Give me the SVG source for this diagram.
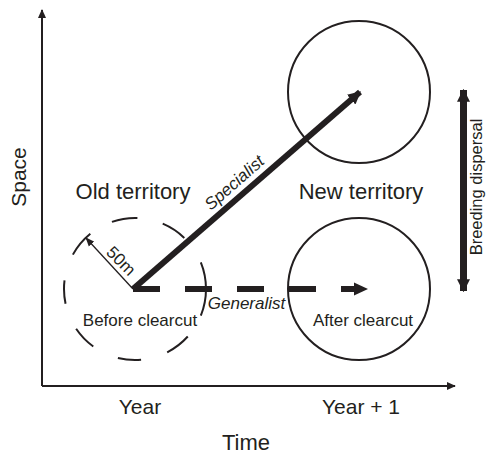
<svg xmlns="http://www.w3.org/2000/svg" width="486" height="456" viewBox="0 0 486 456">
<defs>
<style>
.t{font-family:"Liberation Sans",Arial,sans-serif;fill:#231f20}
.ax{stroke:#231f20;stroke-width:2;fill:none}
.c{stroke:#231f20;stroke-width:2;fill:none}
</style>
<marker id="ah" viewBox="0 0 10 10" refX="9" refY="5" markerWidth="9" markerHeight="9" markerUnits="userSpaceOnUse" orient="auto"><path d="M0,0.5L10,5L0,9.5z" fill="#231f20"/></marker>
<marker id="bh" viewBox="0 0 10 10" refX="9" refY="5" markerWidth="13" markerHeight="13" markerUnits="userSpaceOnUse" orient="auto-start-reverse"><path d="M0,0L10,5L0,10z" fill="#231f20"/></marker>
<marker id="sm" viewBox="0 0 10 10" refX="9" refY="5" markerWidth="9" markerHeight="9" markerUnits="userSpaceOnUse" orient="auto"><path d="M0,1L10,5L0,9z" fill="#231f20"/></marker>
</defs>
<g id="axes">
<line class="ax" x1="42" y1="386" x2="42" y2="10" marker-end="url(#ah)"/>
<line class="ax" x1="42" y1="386" x2="455" y2="386" marker-end="url(#ah)"/>
<text class="t" x="26" y="177" font-size="21" text-anchor="middle" transform="rotate(-90 26 177)">Space</text>
<text class="t" x="140" y="414" font-size="21" text-anchor="middle">Year</text>
<text class="t" x="361" y="414" font-size="21" text-anchor="middle">Year + 1</text>
<text class="t" x="246" y="450" font-size="22" text-anchor="middle">Time</text>
</g>
<g id="old-territory">
<circle class="c" cx="135" cy="289" r="71" pathLength="360" stroke-dasharray="44 20 21 22 19 22 20 22 19 22 22 20 21 21 21 24" stroke-dashoffset="22"/>
<text class="t" x="133" y="199" font-size="22" text-anchor="middle">Old territory</text>
<text class="t" x="140" y="326" font-size="17" text-anchor="middle">Before clearcut</text>
</g>
<g id="new-territory-top">
<circle class="c" cx="359" cy="92" r="71"/>
</g>
<g id="new-territory-bottom">
<circle class="c" cx="359" cy="289" r="71"/>
<text class="t" x="361" y="199" font-size="22" text-anchor="middle">New territory</text>
<text class="t" x="363" y="326" font-size="17" text-anchor="middle">After clearcut</text>
</g>
<g id="connectors">
<line x1="133" y1="289" x2="86" y2="238" stroke="#231f20" stroke-width="1.3" marker-end="url(#sm)"/>
<text class="t" x="117" y="265" font-size="17" text-anchor="middle" transform="rotate(45 117 265)">50m</text>
<line x1="133" y1="289" x2="360" y2="92" stroke="#231f20" stroke-width="6" marker-end="url(#bh)"/>
<text class="t" x="238" y="187" font-size="17" font-style="italic" text-anchor="middle" transform="rotate(-41.3 238 187)">Specialist</text>
<line x1="133" y1="289" x2="342" y2="289" stroke="#231f20" stroke-width="6" stroke-dasharray="27 25"/>
<path d="M342,289H356" stroke="#231f20" stroke-width="6"/>
<path d="M354,282.5L368,289L354,295.5z" fill="#231f20"/>
<text class="t" x="246.5" y="309" font-size="17" font-style="italic" text-anchor="middle">Generalist</text>
<line x1="463.5" y1="90" x2="463.5" y2="291" stroke="#231f20" stroke-width="7" marker-start="url(#bh)" marker-end="url(#bh)"/>
<text class="t" x="481.5" y="187" font-size="16.5" text-anchor="middle" transform="rotate(-90 481.5 187)">Breeding dispersal</text>
</g>
</svg>
